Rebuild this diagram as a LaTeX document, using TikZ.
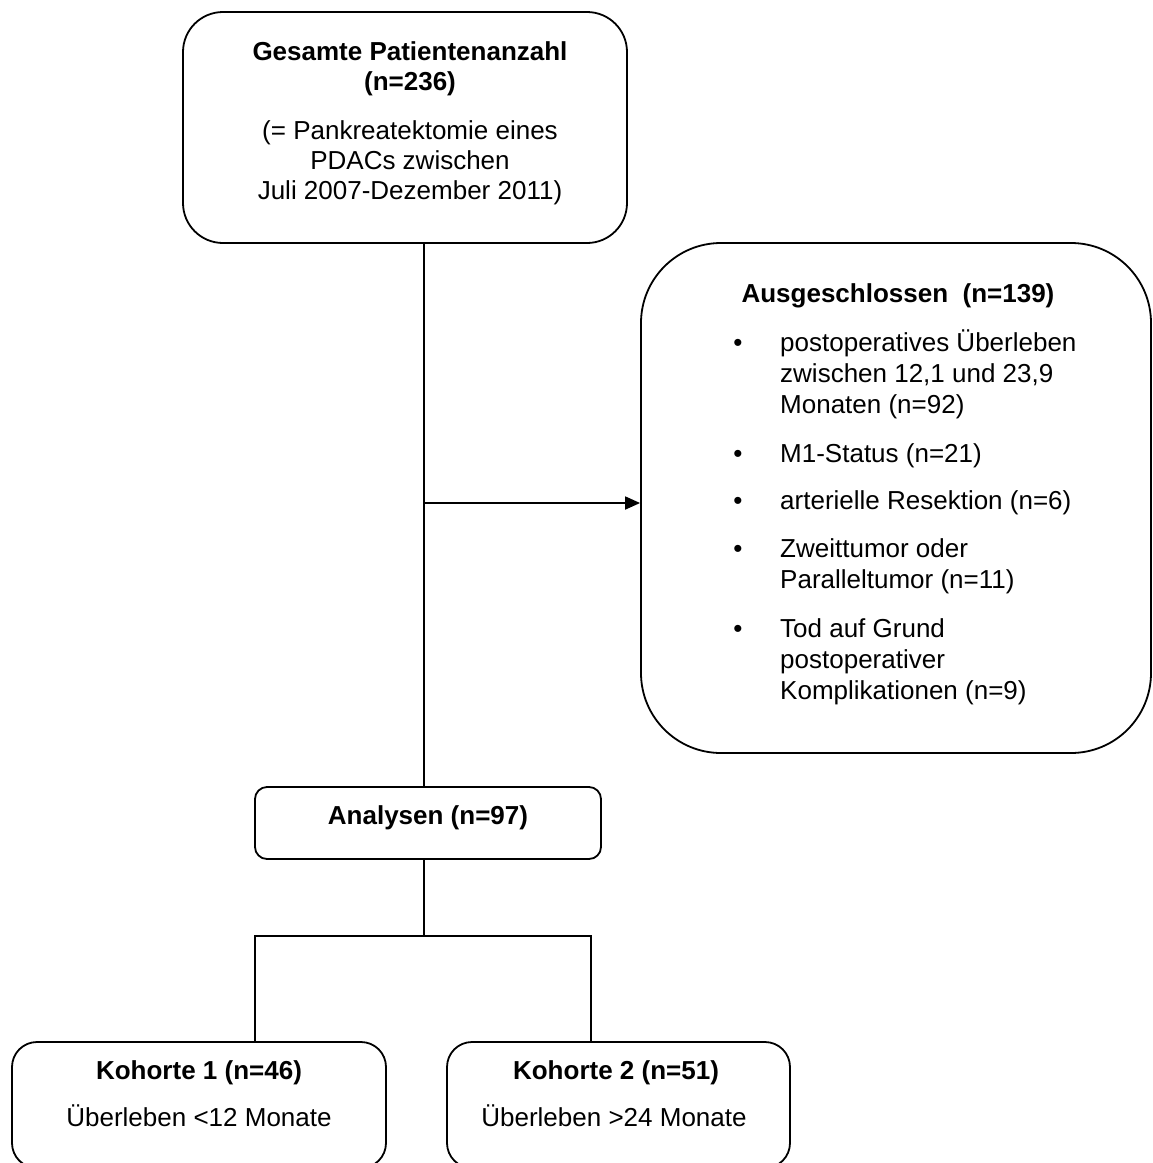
\documentclass[tikz,border=0pt]{standalone}
\usepackage{fontspec}
\setmainfont{Liberation Sans}
\usetikzlibrary{arrows.meta}

\begin{document}
\begin{tikzpicture}[x=1pt,y=-1pt,
  box/.style={draw=black, line width=1.8pt, rectangle, inner sep=0pt},
  txt/.style={font=\fontsize{26}{31}\selectfont, inner sep=0pt, anchor=base},
  bold/.style={txt, font=\fontsize{26}{31}\selectfont\bfseries},
  lft/.style={txt, anchor=base west, align=left},
  line/.style={draw=black, line width=1.8pt}]
\useasboundingbox (0,0) rectangle (1153,1163);
\clip (0,0) rectangle (1153,1163);

% boxes
\node[box, rounded corners=40pt, minimum width=444pt, minimum height=231pt] (gesamt) at (405,127.5) {};
\node[box, rounded corners=80pt, minimum width=510pt, minimum height=510pt] (aus) at (896,498) {};
\node[box, rounded corners=12pt, minimum width=346pt, minimum height=72pt] (ana) at (428,823) {};
\node[box, rounded corners=25pt, minimum width=374pt, minimum height=126pt] (koh1) at (199,1105) {};
\node[box, rounded corners=25pt, minimum width=343pt, minimum height=126pt] (koh2) at (618.5,1105) {};

% texts (multi-line nodes sit on their last baseline)
\node[bold] (g1) at (410,60) {Gesamte Patientenanzahl};
\node[bold] (g2) at (410,90) {(n=236)};
\node[txt] (g3) at (410,139) {(= Pankreatektomie eines};
\node[txt] (g4) at (410,169) {PDACs zwischen};
\node[txt] (g5) at (410,199) {Juli 2007-Dezember 2011)};

\node[bold] (a0) at (898,302) {Ausgeschlossen\ \ (n=139)};
\node[txt] (b1) at (738,351) {•};
\node[lft] (a1) at (780,413) {postoperatives Überleben\\zwischen 12,1 und 23,9\\Monaten (n=92)};
\node[txt] (b2) at (738,462) {•};
\node[lft] (a2) at (780,462) {M1-Status (n=21)};
\node[txt] (b3) at (738,509) {•};
\node[lft] (a3) at (780,509) {arterielle Resektion (n=6)};
\node[txt] (b4) at (738,557) {•};
\node[lft] (a4) at (780,588) {Zweittumor oder\\Paralleltumor (n=11)};
\node[txt] (b5) at (738,637) {•};
\node[lft] (a5) at (780,699) {Tod auf Grund\\postoperativer\\Komplikationen (n=9)};

\node[bold] (n1) at (428,824) {Analysen (n=97)};
\node[bold] (k1) at (199,1079) {Kohorte 1 (n=46)};
\node[txt] (k1b) at (199,1126) {Überleben <12 Monate};
\node[bold] (k2) at (616,1079) {Kohorte 2 (n=51)};
\node[txt] (k2b) at (614,1126) {Überleben >24 Monate};

% connectors
\coordinate (split) at (424,503);
\coordinate (fork) at (424,936);
\coordinate (d1) at (255,936);
\coordinate (d2) at (591,936);
\draw[line] (gesamt.south -| split) -- (ana.north -| split);
\draw[line, -{Triangle[length=15pt,width=13pt]}] (split) -- (aus.west |- split);
\draw[line] (ana.south -| fork) -- (fork);
\draw[line] (d1 |- koh1.north) -- (d1) -- (d2) -- (d2 |- koh2.north);
\end{tikzpicture}
\end{document}
